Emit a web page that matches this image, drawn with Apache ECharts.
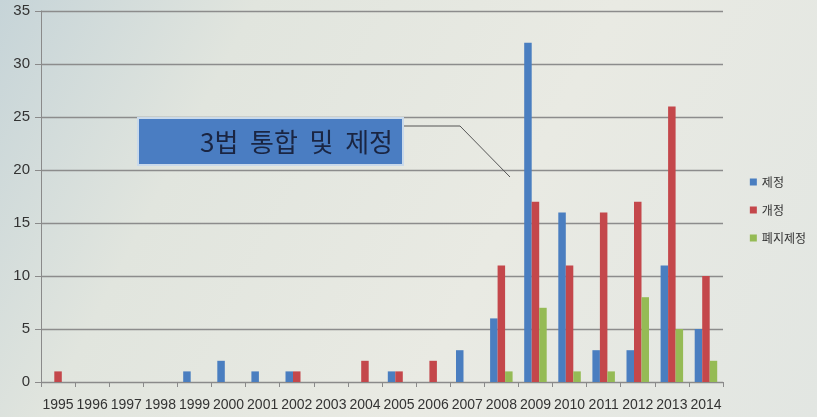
<!DOCTYPE html>
<html>
<head>
<meta charset="utf-8">
<script src="https://cdn.jsdelivr.net/npm/echarts@6/dist/echarts.min.js"></script>
<style>
html,body{margin:0;padding:0;background:#e6e8e1;}
#c{width:817px;height:417px;}
</style>
</head>
<body>
<div id="c"></div>
<script>
var years = ['1995','1996','1997','1998','1999','2000','2001','2002','2003','2004','2005','2006','2007','2008','2009','2010','2011','2012','2013','2014'];
var enacted = [0,0,0,0,1,2,1,1,0,0,1,0,3,6,32,16,3,3,11,5];      // 제정
var amended = [1,0,0,0,0,0,0,1,0,2,1,2,0,11,17,11,16,17,26,10];  // 개정
var repealEnacted = [0,0,0,0,0,0,0,0,0,0,0,0,0,1,7,1,1,8,5,2];   // 폐지제정
var seriesNames = ['제정','개정','폐지제정'];
var yTicks = [0,5,10,15,20,25,30,35];
var calloutText = '3법  통합  및  제정';

var chart = echarts.init(document.getElementById('c'), null, {renderer:'canvas'});
var font = '"Noto Sans CJK KR", "Noto Sans", sans-serif';
var bg = {
  type:'linear', x:0, y:0, x2:1, y2:1,
  colorStops:[
    {offset:0, color:'#c6d4d8'},
    {offset:0.25, color:'#e1e5de'},
    {offset:0.6, color:'#e9eae3'},
    {offset:1, color:'#e2e6e2'}
  ]
};
chart.setOption({
  backgroundColor: bg,
  animation:false,
  textStyle:{fontFamily:font},
  grid:{left:41, right:94, top:11, bottom:35},
  legend:{
    orient:'vertical', right:6, top:171,
    itemWidth:7, itemHeight:7, itemGap:16, icon:'rect',
    textStyle:{fontSize:12, color:'#333', fontFamily:font},
    data:seriesNames
  },
  xAxis:{
    type:'category', data:years,
    axisLine:{lineStyle:{color:'#8a8a8a', width:1}},
    axisTick:{show:true, length:5, alignWithLabel:false, lineStyle:{color:'#8a8a8a'}},
    axisLabel:{fontSize:14, color:'#333', margin:16, interval:0, fontFamily:'"Liberation Sans", sans-serif'}
  },
  yAxis:{
    type:'value', min:yTicks[0], max:yTicks[yTicks.length-1], interval:5,
    axisLine:{show:true, lineStyle:{color:'#8a8a8a', width:1}},
    axisTick:{show:true, length:6, lineStyle:{color:'#8a8a8a'}},
    splitLine:{lineStyle:{color:'#8c8c8c', width:1.3}},
    axisLabel:{fontSize:15, color:'#333', margin:11, fontFamily:'"Liberation Sans", sans-serif'}
  },
  series:[
    {name:seriesNames[0], type:'bar', data:enacted, barWidth:7.5, barGap:'0%', itemStyle:{color:'#4a7ec0'}},
    {name:seriesNames[1], type:'bar', data:amended, barWidth:7.5, barGap:'0%', itemStyle:{color:'#c4474b'}},
    {name:seriesNames[2], type:'bar', data:repealEnacted, barWidth:7.5, barGap:'0%', itemStyle:{color:'#95bb55'}}
  ],
  graphic:[
    {type:'rect', shape:{x:138, y:118, width:265, height:47},
     style:{fill:'#4a7dc2', stroke:'#c9d9ea', lineWidth:2}, z:100},
    {type:'text', x:393, y:142, z:101,
     style:{text:calloutText, fill:'#1a2542', font:'26px "Noto Sans CJK KR"', align:'right', verticalAlign:'middle'}},
    {type:'polyline', shape:{points:[[404,126],[460,126],[510,177]]},
     style:{stroke:'#555', lineWidth:1, fill:null}, z:100}
  ]
});
</script>
</body>
</html>
